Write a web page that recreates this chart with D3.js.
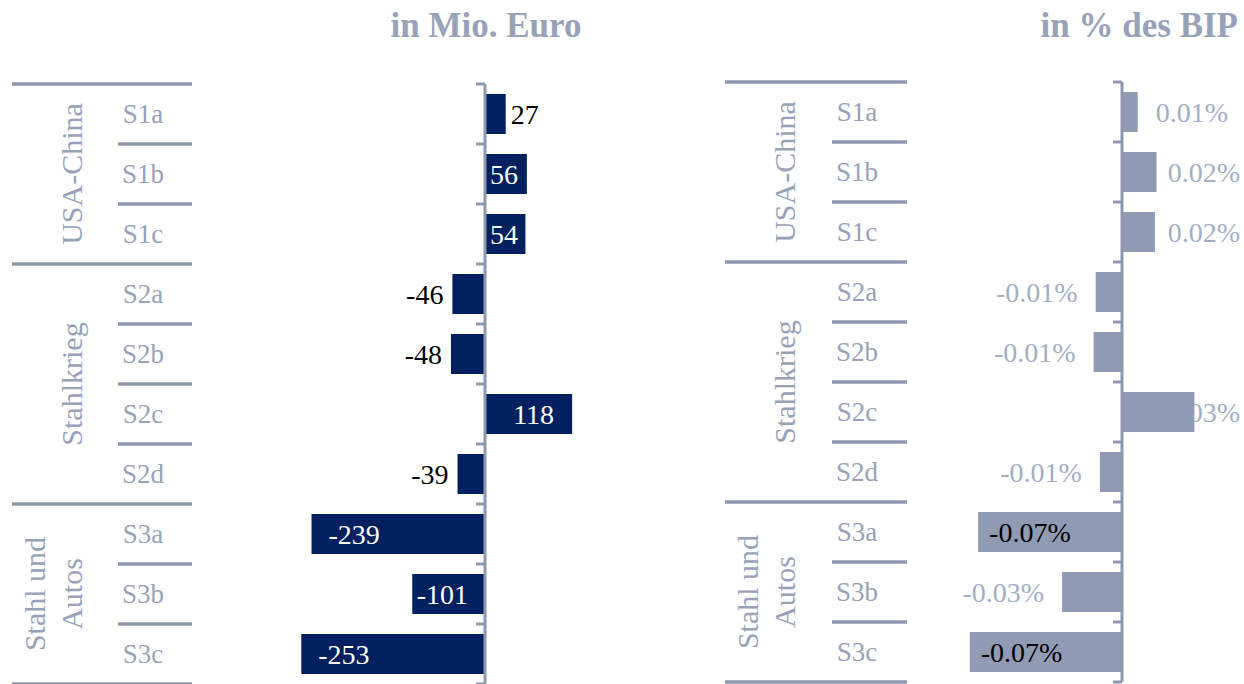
<!DOCTYPE html>
<html>
<head>
<meta charset="utf-8">
<title>Mio. Euro / % des BIP</title>
<script src="https://d3js.org/d3.v7.min.js"></script>
<style>
  body { margin: 0; background: #fff; }
  svg { display: block; font-family: "Liberation Serif", "Times New Roman", serif; }
</style>
</head>
<body>
<svg id="chart" width="1244" height="684"></svg>

<script>
// data
var scenarios = ["S1a", "S1b", "S1c", "S2a", "S2b", "S2c", "S2d", "S3a", "S3b", "S3c"];
var groupNames = [["USA-China"], ["Stahlkrieg"], ["Stahl und", "Autos"]];
var groupSizes = [3, 4, 3];
var euroValues = [27, 56, 54, -46, -48, 118, -39, -239, -101, -253];
var bipValues = [0.007, 0.016, 0.0152, -0.013, -0.014, 0.034, -0.011, -0.069, -0.029, -0.073];

var lineColor = "#8d98ae";
var textColor = "#97a2b9";

var svg = d3.select("#chart");

function drawPanel(o) {
  var g = svg.append("g");

  var y = d3.scaleBand().domain(scenarios)
    .range([o.top, o.top + 600])
    .paddingInner(1 / 3).paddingOuter(1 / 6);
  var x = d3.scaleLinear().domain(o.domain).range(o.range);
  var step = y.step();
  var rowTop = function (s) { return y(s) - (step - y.bandwidth()) / 2; };

  // title
  g.append("text")
    .attr("x", o.titleX).attr("y", 37)
    .attr("text-anchor", o.titleAnchor)
    .attr("font-size", 35).attr("font-weight", "bold")
    .attr("fill", textColor)
    .text(o.title);

  // table lines and group labels
  var idx = 0;
  groupSizes.forEach(function (n, gi) {
    var first = scenarios[idx];
    var yTop = rowTop(first);
    g.append("line")
      .attr("x1", o.tableX).attr("x2", o.tableEnd)
      .attr("y1", yTop).attr("y2", yTop)
      .attr("stroke", lineColor).attr("stroke-width", 3.5);
    for (var k = 1; k < n; k++) {
      var ys = rowTop(scenarios[idx + k]);
      g.append("line")
        .attr("x1", o.subX).attr("x2", o.tableEnd)
        .attr("y1", ys).attr("y2", ys)
        .attr("stroke", lineColor).attr("stroke-width", 3.5);
    }
    var yMid = yTop + n * step / 2;
    var lines = groupNames[gi];
    lines.forEach(function (t, li) {
      var bx = o.tableX + (lines.length == 2 && li == 0 ? 33 : 70);
      g.append("text")
        .attr("transform", "translate(" + bx + "," + yMid + ") rotate(-90)")
        .attr("text-anchor", "middle")
        .attr("font-size", 30)
        .attr("fill", textColor)
        .text(t);
    });
    idx += n;
  });
  var yBottom = o.top + 600;
  g.append("line")
    .attr("x1", o.tableX).attr("x2", o.tableEnd)
    .attr("y1", yBottom).attr("y2", yBottom)
    .attr("stroke", lineColor).attr("stroke-width", 3.5);

  // scenario labels
  g.selectAll("text.scen").data(scenarios).enter().append("text")
    .attr("class", "scen")
    .attr("x", o.subX + 25)
    .attr("y", function (d) { return y(d) + y.bandwidth() / 2; })
    .attr("dy", "0.34em")
    .attr("text-anchor", "middle")
    .attr("font-size", 27)
    .attr("fill", textColor)
    .text(function (d) { return d; });

  var x0 = x(0);

  // value labels first, so that bars may cover them (as in the original)
  var data = scenarios.map(function (s, i) { return { s: s, v: o.values[i] }; });
  var labels = g.selectAll("text.val").data(data).enter().append("text")
    .attr("class", "val")
    .attr("font-size", 28)
    .attr("dy", "0.34em")
    .attr("y", function (d) { return y(d.s) + y.bandwidth() / 2; })
    .text(function (d) { return o.fmt(d.v); });

  var insideLabels = [];
  labels.each(function (d) {
    var t = d3.select(this);
    var w = this.getComputedTextLength();
    var barW = Math.abs(x(d.v) - x0);
    var xe = x(d.v);
    var inside = barW > w + 8;
    var sx;
    if (inside) {
      if (d.v > 0) {
        sx = xe - 18 - w;
        if (sx < x0 + 4) sx = x0 + 4;
      } else {
        sx = xe + o.inPad;
        if (sx + w > x0 - 18) sx = x0 - 18 - w;
      }
    } else {
      if (d.v > 0) {
        sx = xe + o.outPadPos;
        if (sx + w > 1240) sx = 1240 - w;
      } else {
        sx = xe - o.outPadNeg - w;
      }
    }
    t.attr("x", sx).attr("fill", inside ? o.insideColor : o.outsideColor);
    if (inside) insideLabels.push(this);
  });

  // bars
  g.selectAll("rect.bar").data(data).enter().append("rect")
    .attr("class", "bar")
    .attr("x", function (d) { return Math.min(x(d.v), x0); })
    .attr("width", function (d) { return Math.abs(x(d.v) - x0); })
    .attr("y", function (d) { return y(d.s); })
    .attr("height", y.bandwidth())
    .attr("fill", o.barColor);

  // labels that sit inside bars go on top
  insideLabels.forEach(function (n) { g.node().appendChild(n); });

  // axis with ticks at row boundaries
  g.append("line")
    .attr("x1", x0 - 1).attr("x2", x0 - 1)
    .attr("y1", o.top).attr("y2", yBottom)
    .attr("stroke", lineColor).attr("stroke-width", 3);
  var bounds = scenarios.map(rowTop).concat([yBottom]);
  g.selectAll("line.tick").data(bounds).enter().append("line")
    .attr("class", "tick")
    .attr("x1", x0 - 10).attr("x2", x0 - 1)
    .attr("y1", function (d) { return d; }).attr("y2", function (d) { return d; })
    .attr("stroke", lineColor).attr("stroke-width", 3);
}

drawPanel({
  title: "in Mio. Euro", titleX: 486, titleAnchor: "middle",
  top: 84, tableX: 12, subX: 118, tableEnd: 192,
  domain: [-300, 200], range: [486 - 219, 486 + 146],
  values: euroValues,
  fmt: function (v) { return String(v); },
  barColor: "#002060", insideColor: "#ffffff", outsideColor: "#000000",
  inPad: 17, outPadPos: 5, outPadNeg: 9
});

drawPanel({
  title: "in % des BIP", titleX: 1238, titleAnchor: "end",
  top: 82, tableX: 725, subX: 832, tableEnd: 907,
  domain: [-0.1, 0.05], range: [1123 - 210, 1123 + 105],
  values: bipValues,
  fmt: function (v) { return v.toFixed(2) + "%"; },
  barColor: "#8f9bb2", insideColor: "#000000", outsideColor: "#a3aec4",
  inPad: 11, outPadPos: 18, outPadNeg: 18
});
</script>
</body>
</html>
